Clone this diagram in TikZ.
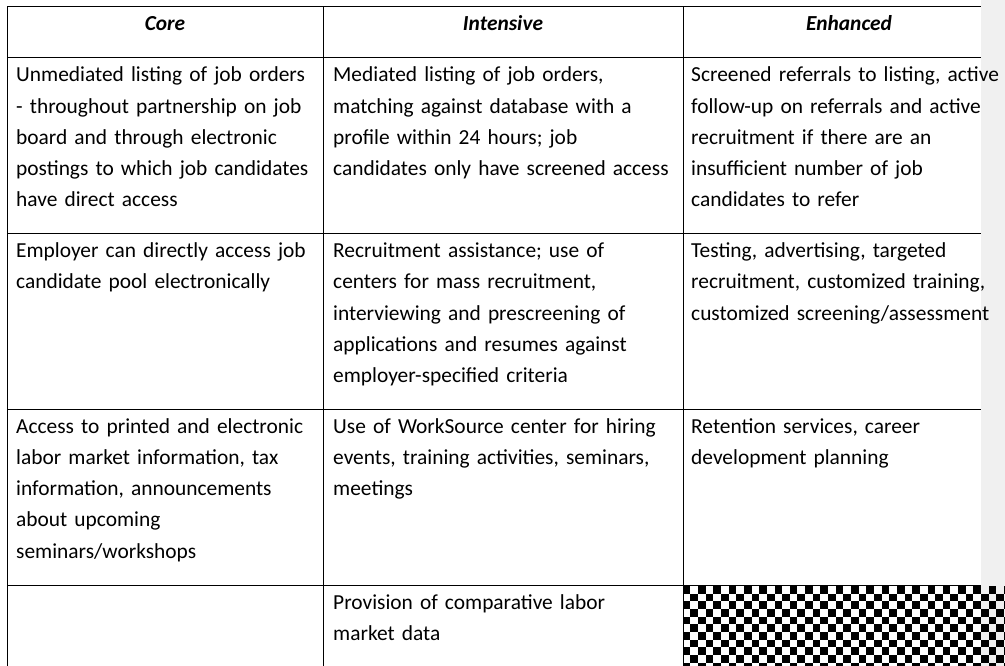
\documentclass[tikz,border=0pt]{standalone}
\usepackage{fontspec}
\setmainfont{Carlito}
\definecolor{barGrey}{RGB}{240,240,240}
\newcommand{\cellfont}{\fontsize{21.4}{31.2}\selectfont}
\tikzset{
  cell/.style={anchor=base west, inner sep=0pt, text width=400pt, align=left, font=\cellfont},
  head/.style={anchor=base, inner sep=0pt, font=\cellfont\bfseries\itshape},
  rulew/.style={line width=1pt, black}
}
\begin{document}
\begin{tikzpicture}[x=1pt,y=-1pt]
\useasboundingbox (0,0) rectangle (1005,666);
% grid lines
\coordinate (tl) at (7,7);
\coordinate (bl) at (7,666);
\coordinate (d1t) at (323,7);
\coordinate (d1b) at (323,666);
\coordinate (d2t) at (683,7);
\coordinate (d2b) at (683,666);
\foreach \yy/\nm in {7/h0,58/h1,233.6/h2,409.3/h3,585/h4}{
  \coordinate (\nm l) at (7,\yy);
  \coordinate (\nm r) at (1005,\yy);
  \draw[rulew] (\nm l) -- (\nm r);
}
\draw[rulew] (tl) -- (bl);
\draw[rulew] (d1t) -- (d1b);
\draw[rulew] (d2t) -- (d2b);
% grey margin bar (over the rules, under the text)
\fill[barGrey] (981,0) rectangle (1005,666);
% header
\node[head] (hcore) at (165,31) {Core};
\node[head] (hint) at (503,31) {Intensive};
\node[head] (henh) at (849,31) {Enhanced};
% row 1
\node[cell] (c11) at (16,82) {Unmediated listing of job orders\\- throughout partnership on job\\board and through electronic\\postings to which job candidates\\have direct access};
\node[cell] (c12) at (333,82) {Mediated listing of job orders,\\matching against database with a\\profile within 24 hours; job\\candidates only have screened access};
\node[cell] (c13) at (691,82) {Screened referrals to listing, active\\follow-up on referrals and active\\recruitment if there are an\\insufficient number of job\\candidates to refer};
% row 2
\node[cell] (c21) at (16,257.6) {Employer can directly access job\\candidate pool electronically};
\node[cell] (c22) at (333,257.6) {Recruitment assistance; use of\\centers for mass recruitment,\\interviewing and prescreening of\\applications and resumes against\\employer-specified criteria};
\node[cell] (c23) at (691,257.6) {Testing, advertising, targeted\\recruitment, customized training,\\customized screening/assessment};
% row 3
\node[cell] (c31) at (16,433.3) {Access to printed and electronic\\labor market information, tax\\information, announcements\\about upcoming\\seminars/workshops};
\node[cell] (c32) at (333,433.3) {Use of WorkSource center for hiring\\events, training activities, seminars,\\meetings};
\node[cell] (c33) at (691,433.3) {Retention services, career\\development planning};
% row 4
\node[cell] (c42) at (333,609) {Provision of comparative labor\\market data};
% checkerboard cell
\begin{scope}
\clip (684,586) rectangle (1005,666);
\foreach \i in {0,...,42}{
  \foreach \j in {0,...,10}{
    \pgfmathtruncatemacro\kk{mod(\i+\j,2)}
    \ifnum\kk=0
      \fill[black] (682.7+\i*7.65,586+\j*7.65) rectangle ++(7.65,7.65);
    \fi
  }
}
\end{scope}
\end{tikzpicture}
\end{document}
